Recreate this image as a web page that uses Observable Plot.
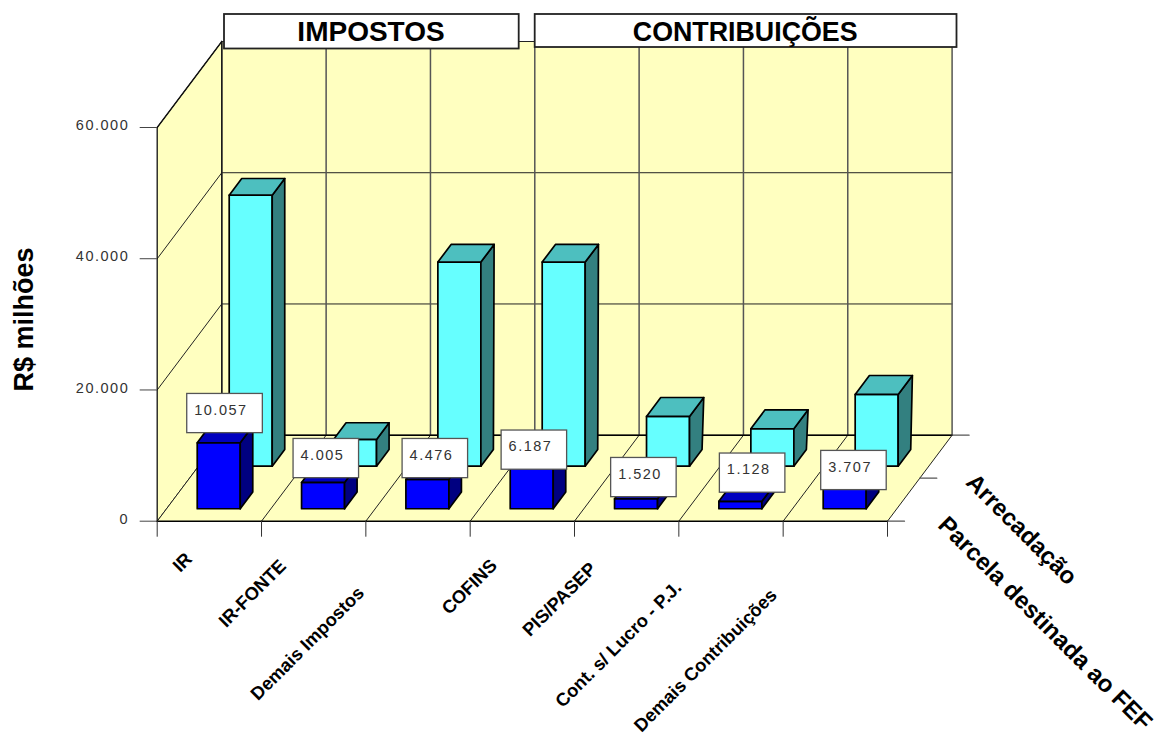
<!DOCTYPE html>
<html><head><meta charset="utf-8">
<script src="https://cdn.jsdelivr.net/npm/d3@7"></script>
<script src="https://cdn.jsdelivr.net/npm/@observablehq/plot@0.6"></script>
<style>
html,body{margin:0;padding:0;background:#fff}
svg{display:block}
</style></head><body><div id="c"></div>
<script>
// ---- data ----
const categories=["IR","IR-FONTE","Demais Impostos","COFINS","PIS/PASEP","Cont. s/ Lucro - P.J.","Demais Contribuições"];
const arrecadacao=[41300,4070,31100,31100,7580,5700,10930];
const parcelaFEF=[10057,4005,4476,6187,1520,1128,3707];
const yTicks=[0,20000,40000,60000];
const seriesNames=["Parcela destinada ao FEF","Arrecadação"];
const groupTitles=["IMPOSTOS","CONTRIBUIÇÕES"];

// ---- frame: pixels per unit of the two scales ----
const W=1157,H=736,L=156.7,R=887,T=127,B=520.7;
const pxX=(R-L)/7, pxY=(B-T)/60000;
const toX=p=>(p-L)/pxX, toY=p=>(B-p)/pxY;      // annotation placement in scale units
// oblique projection: depth 0 (front) .. 1 (back)
const DX=64.6/pxX, DY=86/pxY;
const P=(c,d,v)=>({x:c+d*DX,y:v+d*DY});
const barW=43/pxX, barGap=(1-barW)/2, barD=0.194;
const topDepth=[.194,.194,.205,.205,.22,.22,.22];

const poly=(key,fill,pts)=>[...pts,pts[0]].map(p=>({...p,key,fill}));
function bar(i,v,d0,cols,dt){
  const a=i+barGap,b=a+barW,d1=d0+barD,d2=d0+dt;
  return [
    ...poly(`f${d0}${i}`,cols[0],[P(a,d0,0),P(b,d0,0),P(b,d0,v),P(a,d0,v)]),
    ...poly(`s${d0}${i}`,cols[1],[P(b,d0,0),P(b,d1,0),P(b,d2,v),P(b,d0,v)]),
    ...poly(`t${d0}${i}`,cols[2],[P(a,d0,v),P(b,d0,v),P(b,d2,v),P(a,d2,v)])
  ];
}
const cyan=["#66ffff","#338080","#4dbfbf"], blue=["#0000ff","#000080","#0000bf"];
const D_BLUE=0.145,D_CYAN=0.64;
const bars=[
  ...arrecadacao.flatMap((v,i)=>bar(i,v,D_CYAN,cyan,topDepth[i])),
  ...parcelaFEF.flatMap((v,i)=>bar(i,v,D_BLUE,blue,barD))
];
// walls and floor
const wallColor="#ffffc0", yMax=60000;
const walls=[
  ...poly("left",wallColor,[P(0,0,0),P(0,1,0),P(0,1,yMax),P(0,0,yMax)]),
  ...poly("back",wallColor,[P(0,1,0),P(7,1,0),P(7,1,yMax),P(0,1,yMax)]),
  ...poly("floor",wallColor,[P(0,0,0),P(7,0,0),P(7,1,0),P(0,1,0)])
];
const seg=(key,a,b)=>[{...a,key},{...b,key}];
const hGrid=yTicks.flatMap(v=>[...seg(`lw${v}`,P(0,0,v),P(0,1,v)),...seg(`bw${v}`,P(0,1,v),P(7,1,v))]);
const vGrid=d3.range(8).flatMap(c=>seg(`v${c}`,P(c,1,0),P(c,1,yMax)));
const floorGrid=d3.range(8).flatMap(c=>seg(`fl${c}`,P(c,0,0),P(c,1,0)));
const edges=[...seg("e1",P(0,0,0),P(0,0,yMax)),...seg("e2",P(0,0,yMax),P(0,1,yMax)),...seg("e3",P(0,1,0),P(0,1,yMax))];
const depthTicks=[0,0.5,1].flatMap(d=>seg(`d${d}`,P(7,d,0),{x:P(7,d,0).x+17/pxX,y:P(7,d,0).y}));

// value label boxes: nudge (px) from the top-left of each blue bar
const nudgeX=[-10,-8,-3.3,-8.6,-3.4,1,-2];
const nudgeY=[-9.6,-4.3,-1.2,1.6,-1.6,-8.6,5.7];
const fmt=v=>d3.format(",")(v).replace(/,/g,".");
const boxes=parcelaFEF.map((v,i)=>{
  const o=P(i+barGap,D_BLUE,v), s=fmt(v);
  const bottom=o.y-nudgeY[i]/pxY, left=o.x+nudgeX[i]/pxX;
  const w=15+10.1*s.length,h=39.2;
  return {s,x1:left,x2:left+w/pxX,y1:bottom,y2:bottom+h/pxY,tx:left+7/pxX,ty:bottom+(h/2+3.5)/pxY};
});
// title boxes
const titleBoxes=[
  {s:groupTitles[0],fs:28,x1:toX(224),x2:toX(518.7),y1:toY(48.5),y2:toY(14),tx:toX(370.5),ty:toY(31.5)},
  {s:groupTitles[1],fs:26.8,x1:toX(534.7),x2:toX(956.5),y1:toY(47),y2:toY(14),tx:toX(744.7),ty:toY(31.5)}
];
// slanted category labels (centre points, px)
const catLabelX=[182,252,307,469,559,618,705];
const catLabelY=[562,593,643,586.5,599,644,660];
const catLabels=categories.map((s,i)=>({s,x:toX(catLabelX[i]),y:toY(catLabelY[i])}));

const spaced=(i,s,v,d,c,next)=>{const g=next(i,s,v,d,c);g.style.letterSpacing="1.5px";return g;};
const lineOpts={x:"x",y:"y",z:"key"};
const plot=Plot.plot({
  width:W,height:H,marginLeft:L,marginRight:W-R,marginTop:T,marginBottom:H-B,
  x:{domain:[0,7],axis:null},y:{domain:[0,yMax],axis:null},
  style:{fontFamily:"'Liberation Sans',Arial,sans-serif",background:"#fff",overflow:"visible"},
  marks:[
    Plot.line(walls,{...lineOpts,fill:"fill",stroke:"none"}),
    Plot.line(hGrid,{...lineOpts,stroke:"#222",strokeWidth:1}),
    Plot.line(vGrid,{...lineOpts,stroke:"#555",strokeWidth:1.5}),
    Plot.line(walls.filter(d=>d.key==="floor"),{...lineOpts,fill:wallColor,stroke:"none"}),
    Plot.line(floorGrid,{...lineOpts,stroke:"#222",strokeWidth:1}),
    Plot.line(edges,{...lineOpts,stroke:"#111",strokeWidth:1.3}),
    Plot.line(seg("back",P(0,1,0),P(7,1,0)),{...lineOpts,stroke:"#000",strokeWidth:1.5}),
    Plot.line(seg("front",P(0,0,0),P(7,0,0)),{...lineOpts,stroke:"#000",strokeWidth:1.5}),
    Plot.line(depthTicks,{...lineOpts,stroke:"#555",strokeWidth:1.2}),
    Plot.axisY({ticks:yTicks,tickSize:17,text:null,stroke:"#444",label:null,anchor:"left"}),
    Plot.axisY({ticks:yTicks,tickSize:0,tickPadding:28,tickFormat:fmt,fontSize:14.5,fill:"#333",label:null,anchor:"left",dy:-2,render:spaced}),
    Plot.axisX({ticks:d3.range(8),tickSize:16,text:null,stroke:"#333",label:null,anchor:"bottom"}),
    Plot.line(bars,{...lineOpts,fill:"fill",stroke:"#000",strokeWidth:1.7,strokeLinejoin:"round"}),
    Plot.rect(boxes,{x1:"x1",x2:"x2",y1:"y1",y2:"y2",fill:"#fff",stroke:"#555",strokeWidth:1.3}),
    Plot.text(boxes,{x:"tx",y:"ty",text:"s",textAnchor:"start",fontSize:14.5,fill:"#333",render:spaced}),
    Plot.rect(titleBoxes,{x1:"x1",x2:"x2",y1:"y1",y2:"y2",fill:"#fff",stroke:"#222",strokeWidth:1.8}),
    Plot.text(titleBoxes,{x:"tx",y:"ty",text:"s",fontSize:"fs",fontWeight:"bold",fill:"#000"}),
    Plot.text(catLabels,{x:"x",y:"y",text:"s",rotate:-45,fontSize:18.3,fontWeight:"bold",fill:"#000"}),
    Plot.text([{s:"R$ milhões"}],{x:toX(24),y:toY(319),text:"s",rotate:-90,fontSize:27,fontWeight:"bold",fill:"#000"}),
    Plot.text([{s:seriesNames[1]}],{x:toX(1021),y:toY(529),text:"s",rotate:45,fontSize:24,fontWeight:"bold",fill:"#000"}),
    Plot.text([{s:seriesNames[0]}],{x:toX(1044.5),y:toY(623),text:"s",rotate:45,fontSize:24,fontWeight:"bold",fill:"#000"})
  ]
});
document.getElementById("c").appendChild(plot);
</script></body></html>
